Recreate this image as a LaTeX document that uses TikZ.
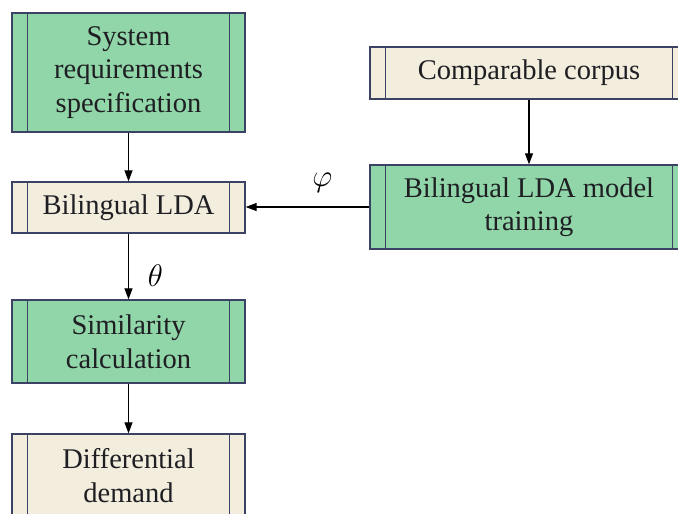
\documentclass[tikz,border=0pt]{standalone}
\usepackage{fontspec}
\setmainfont{Liberation Serif}
\newfontfamily\boxfont{Liberation Serif}
\usetikzlibrary{arrows.meta}
\definecolor{procgreen}{RGB}{145,214,168}
\definecolor{databeige}{RGB}{242,237,221}
\definecolor{boxedge}{RGB}{60,66,100}
\definecolor{txt}{RGB}{30,30,35}
\tikzset{
  x=1pt, y=-1pt,
  box/.style={draw=boxedge, line width=1.3pt, inner sep=0pt, align=center,
    text=txt, font=\boxfont\fontsize{28.5}{33.5}\selectfont},
  proc/.style={box, fill=procgreen},
  data/.style={box, fill=databeige},
  flow/.style={line width=1.1pt, -{Triangle[length=11pt,width=8pt]}},
  greek/.style={font=\fontsize{20}{24}\selectfont, scale=1.5, inner sep=0pt},
}
\newcommand{\sidebars}[1]{%
  \draw[boxedge, line width=1.3pt] ([xshift=16pt]#1.north west) -- ([xshift=16pt]#1.south west)
    ([xshift=-16pt]#1.north east) -- ([xshift=-16pt]#1.south east);}
\begin{document}
\begin{tikzpicture}
\clip (0,0) rectangle (678,514);
\fill[white] (0,0) rectangle (678,514);

% left column
\node[proc, minimum width=233pt, minimum height=119pt] (srs) at (128.5,72.5)
  {System\\requirements\\specification};
\node[data, minimum width=233pt, minimum height=51pt] (lda) at (128.5,207.5)
  {Bilingual LDA};
\node[proc, minimum width=233pt, minimum height=83pt] (sim) at (128.5,341.5)
  {Similarity\\calculation};
\node[data, minimum width=233pt, minimum height=83pt] (diff) at (128.5,475.5)
  {Differential\\demand};

% right column
\node[data, minimum width=318pt, minimum height=52pt] (corp) at (529,73)
  {Comparable corpus};
\node[proc, minimum width=318pt, minimum height=84pt] (train) at (529,207)
  {Bilingual LDA model\\training};

\foreach \n in {srs,lda,sim,diff,corp,train} {\sidebars{\n}}

% connectors
\draw[flow] (srs) -- (lda);
\draw[flow] (lda) -- node[greek, pos=0.64, xshift=18pt] {$\theta$} (sim);
\draw[flow] (sim) -- (diff);
\draw[flow] (corp) -- (train);
\draw[flow] (train.west) -- node[greek, pos=0.38, yshift=16pt] {$\varphi$} (lda.east |- train.west);
\end{tikzpicture}
\end{document}
